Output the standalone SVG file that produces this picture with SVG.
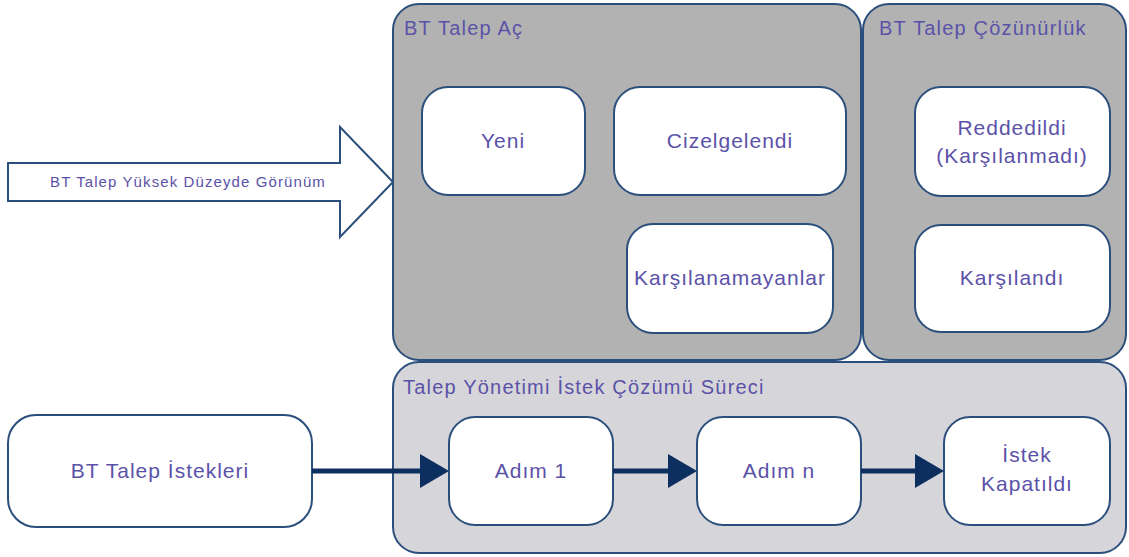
<svg xmlns="http://www.w3.org/2000/svg" width="1129" height="557" viewBox="0 0 1129 557">
<style>
.cont{fill:#b2b2b2;stroke:#2b4f7c;stroke-width:2}
.cont2{fill:#d6d6da;stroke:#2b4f7c;stroke-width:2}
.node{fill:#fff;stroke:#2b4f7c;stroke-width:2}
.t{font-family:"Liberation Sans",Arial,sans-serif;fill:#5b52a8;font-size:21px;letter-spacing:1px;text-anchor:middle}
.h{font-family:"Liberation Sans",Arial,sans-serif;fill:#5b52a8;font-size:20px;letter-spacing:1.2px}
.conn{stroke:#0d2f5f;stroke-width:5;fill:none}
.head{fill:#0d2f5f}
</style>
<g id="hollow-arrow">
<polygon points="8,163 340,163 340,127 393,182 340,237 340,201 8,201" fill="#fff" stroke="#2b4f7c" stroke-width="2"/>
<text x="188" y="187" class="t" style="font-size:15px;letter-spacing:1.1px">BT Talep Yüksek Düzeyde Görünüm</text>
</g>
<g id="grp-acik">
<rect x="393" y="4" width="468" height="356" rx="26" class="cont"/>
<text x="404" y="35" class="h">BT Talep Aç</text>
</g>
<g id="grp-cozum">
<rect x="863" y="4" width="263" height="356" rx="26" class="cont"/>
<text x="879" y="35" class="h">BT Talep Çözünürlük</text>
</g>
<g id="grp-surec">
<rect x="393" y="362" width="733" height="191" rx="26" class="cont2"/>
<text x="403" y="394" class="h">Talep Yönetimi İstek Çözümü Süreci</text>
</g>
<g id="n-yeni">
<rect x="422" y="87" width="163" height="108" rx="26" class="node"/>
<text x="503" y="148" class="t">Yeni</text>
</g>
<g id="n-cizelge">
<rect x="614" y="87" width="232" height="108" rx="26" class="node"/>
<text x="730" y="148" class="t">Cizelgelendi</text>
</g>
<g id="n-karsilanamayan">
<rect x="627" y="224" width="206" height="109" rx="26" class="node"/>
<text x="730" y="285" class="t">Karşılanamayanlar</text>
</g>
<g id="n-reddedildi">
<rect x="915" y="87" width="195" height="109" rx="26" class="node"/>
<text x="1012" y="135" class="t">Reddedildi</text>
<text x="1012" y="163" class="t">(Karşılanmadı)</text>
</g>
<g id="n-karsilandi">
<rect x="915" y="225" width="195" height="107" rx="26" class="node"/>
<text x="1012" y="285" class="t">Karşılandı</text>
</g>
<g id="n-istekler">
<rect x="8" y="415" width="304" height="112" rx="28" class="node"/>
<text x="160" y="478" class="t">BT Talep İstekleri</text>
</g>
<g id="n-adim1">
<rect x="449" y="417" width="164" height="108" rx="26" class="node"/>
<text x="531" y="478" class="t">Adım 1</text>
</g>
<g id="n-adimn">
<rect x="697" y="417" width="164" height="108" rx="26" class="node"/>
<text x="779" y="478" class="t">Adım n</text>
</g>
<g id="n-kapatildi">
<rect x="944" y="417" width="166" height="108" rx="26" class="node"/>
<text x="1027" y="462" class="t">İstek</text>
<text x="1027" y="491" class="t">Kapatıldı</text>
</g>
<g id="connectors">
<line x1="312" y1="471" x2="424" y2="471" class="conn"/>
<polygon points="420,454 449,471 420,488" class="head"/>
<line x1="613" y1="471" x2="672" y2="471" class="conn"/>
<polygon points="668,454 697,471 668,488" class="head"/>
<line x1="861" y1="471" x2="919" y2="471" class="conn"/>
<polygon points="915,454 944,471 915,488" class="head"/>
</g>
</svg>
